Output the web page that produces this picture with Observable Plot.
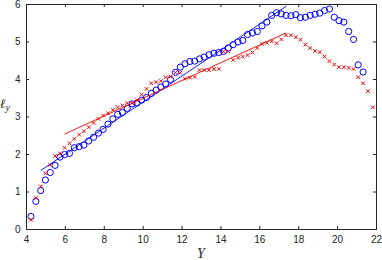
<!DOCTYPE html>
<html>
<head>
<meta charset="utf-8">
<script src="https://cdn.jsdelivr.net/npm/d3@7"></script>
<script src="https://cdn.jsdelivr.net/npm/@observablehq/plot@0.6"></script>
<style>
  html, body { margin: 0; padding: 0; background: #fff; }
  #chart svg { display: block; }
</style>
</head>
<body>
<div id="chart"></div>
<script>
const xValues = [4.23,4.48,4.73,4.97,5.22,5.47,5.72,5.96,6.21,6.46,6.71,6.95,7.20,7.45,7.70,7.94,8.19,8.44,8.69,8.93,
  9.18,9.43,9.68,9.92,10.17,10.42,10.67,10.91,11.16,11.41,11.66,11.91,12.15,12.40,12.65,12.90,13.14,13.39,13.64,13.89,
  14.13,14.38,14.63,14.88,15.12,15.37,15.62,15.87,16.11,16.36,16.61,16.86,17.10,17.35,17.60,17.85,18.09,18.34,18.59,18.84,
  19.08,19.33,19.58,19.83,20.07,20.32,20.57,20.82,21.06,21.31,21.56,21.81];

const blueY = [0.35,0.75,1.04,1.32,1.52,1.71,1.93,2.00,2.03,2.18,2.21,2.25,2.36,2.46,2.57,2.67,2.81,2.95,3.07,3.12,
  3.23,3.35,3.37,3.45,3.52,3.63,3.72,3.80,3.88,4.00,4.19,4.33,4.42,4.48,4.49,4.55,4.60,4.66,4.70,4.72,
  4.75,4.84,4.93,5.00,5.04,5.20,5.24,5.28,5.43,5.53,5.71,5.78,5.75,5.71,5.70,5.73,5.65,5.66,5.71,5.74,
  5.77,5.84,5.88,5.66,5.57,5.53,5.28,5.07,4.39,4.20];

const redY = [0.26,0.84,1.15,1.50,1.72,1.96,2.03,2.18,2.30,2.42,2.53,2.62,2.73,2.84,2.95,3.04,3.10,3.19,3.26,3.31,
  3.37,3.37,3.45,3.60,3.75,3.90,3.93,3.96,4.06,4.08,4.18,4.18,4.02,4.05,4.07,4.25,4.25,4.25,4.28,4.28,
  4.74,4.75,4.52,4.58,4.61,4.65,4.72,4.84,4.95,4.98,5.02,4.97,5.07,5.18,5.18,5.13,5.06,4.93,4.84,4.76,
  4.73,4.61,4.49,4.40,4.33,4.33,4.31,4.28,4.06,3.90,3.69,3.26];

const blueFitX = [4.75, 17.35];
const blueFitY = [1.58, 5.95];
const redFitX = [5.98, 17.34];
const redFitY = [2.55, 5.24];

const xTicks = [4,6,8,10,12,14,16,18,20,22];
const yTicks = [0,1,2,3,4,5,6];

const blue = blueY.map((y, i) => ({x: xValues[i], y}));
const red = redY.map((y, i) => ({x: xValues[i], y}));
const blueFit = blueFitX.map((x, i) => ({x, y: blueFitY[i]}));
const redFit = redFitX.map((x, i) => ({x, y: redFitY[i]}));

const axisColor = "#262626";

const chart = Plot.plot({
  width: 382,
  height: 260,
  marginLeft: 26,
  marginRight: 6,
  marginTop: 4,
  marginBottom: 31,
  x: {domain: [4, 22]},
  y: {domain: [0, 6]},
  style: {fontFamily: "'Liberation Sans', Arial, sans-serif", fontSize: "10px", color: axisColor, background: "white"},
  marks: [
    Plot.axisX(xTicks, {tickSize: 0, tickPadding: 6, label: null, fill: axisColor}),
    Plot.axisY(yTicks, {tickSize: 0, tickPadding: 6, label: null, fill: axisColor}),
    Plot.ruleX(xTicks, {y1: 0, y2: 0.08, stroke: axisColor}),
    Plot.ruleX(xTicks, {y1: 6, y2: 5.92, stroke: axisColor}),
    Plot.ruleY(yTicks, {x1: 4, x2: 4.16, stroke: axisColor}),
    Plot.ruleY(yTicks, {x1: 22, x2: 21.84, stroke: axisColor}),
    Plot.dot(blue, {x: "x", y: "y", r: 3.1, stroke: "#0000ff", strokeWidth: 1, fill: "none"}),
    Plot.dot(red, {x: "x", y: "y", symbol: "times", r: 1.8, stroke: "#ff0000", strokeWidth: 1}),
    Plot.line(blueFit, {x: "x", y: "y", stroke: "#0000ff", strokeWidth: 0.9}),
    Plot.line(redFit, {x: "x", y: "y", stroke: "#ff0000", strokeWidth: 0.9}),
    Plot.frame({stroke: axisColor})
  ]
});

document.getElementById("chart").appendChild(chart);

const svg = d3.select(chart);
const yl = svg.append("text")
  .attr("x", 5)
  .attr("y", 108)
  .attr("font-family", "'DejaVu Serif', 'Liberation Serif', serif")
  .attr("font-style", "italic")
  .attr("font-size", 13)
  .attr("fill", axisColor);
yl.append("tspan").text("ℓ");
yl.append("tspan").attr("dy", 3).attr("font-size", 10)
  .attr("font-family", "'Liberation Serif', 'Times New Roman', serif").text("y");

svg.append("text")
  .attr("x", 201)
  .attr("y", 258)
  .attr("text-anchor", "middle")
  .attr("font-family", "'Liberation Serif', 'Times New Roman', serif")
  .attr("font-style", "italic")
  .attr("font-size", 14)
  .attr("fill", axisColor)
  .text("Y");
</script>
</body>
</html>
